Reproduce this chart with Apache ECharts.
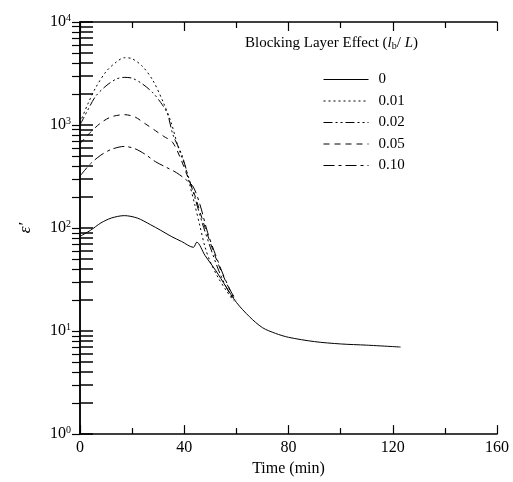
<!DOCTYPE html>
<html>
<head>
<meta charset="utf-8">
<script src="https://cdn.jsdelivr.net/npm/echarts@6/dist/echarts.min.js"></script>
<style>
html,body{margin:0;padding:0;background:#fff;}
#main{width:513px;height:482px;}
</style>
</head>
<body>
<div id="main"></div>
<script>
// blocking layer thickness ratios (lb/L)
var seriesNames = ['0', '0.01', '0.02', '0.05', '0.10'];
// [time (min), epsilon']
var eps0 = [[0,83],[4,95],[8,112],[12,125],[17,132],[22,125],[27,108],[31,95],[35,83],[39,74],[43.5,65],[44.8,73],[48,54],[52,39],[56,27],[60,19],[65,13.8],[70,10.8],[75,9.5],[80,8.7],[90,7.9],[100,7.5],[110,7.3],[123,7.0]];
var eps001 = [[0,1050],[3,1600],[6,2300],[10,3300],[14,4100],[17,4500],[20,4400],[24,3700],[28,2700],[32,1650],[35,1050],[37.6,620],[40.3,400],[42,270],[44,170],[46,105],[48,65],[50,47],[53,33],[56,25],[59,19.5]];
var eps002 = [[0,1000],[3,1400],[6,1900],[10,2400],[14,2800],[17,2900],[20,2850],[24,2500],[28,2050],[31,1650],[33.5,1300],[35.7,800],[39,520],[41.5,320],[44,200],[47,110],[50,65],[53,40],[56,27],[59,20]];
var eps005 = [[0,660],[4,850],[8,1050],[12,1200],[17,1260],[21,1200],[25,1030],[29,880],[32,780],[35.5,680],[38.5,480],[41,330],[44,210],[47,120],[50,72],[53,45],[56,30],[59,21]];
var eps010 = [[0,320],[4,420],[8,510],[12,580],[17,620],[21,590],[25,520],[29,440],[33,390],[37,345],[41,290],[43.5,250],[46,170],[49,90],[52,55],[55,35],[58,24],[60,20]];
var xTicks = [0, 40, 80, 120, 160];
var yDecades = [1, 10, 100, 1000, 10000];

var logTicks = [];
for (var d = 0; d < 4; d++) {
    for (var k = 1; k < 10; k++) {
        logTicks.push(k * Math.pow(10, d));
    }
}
logTicks.push(10000);

var serif = 'Liberation Serif';
var dashes = ['solid', [2, 3], [9, 3, 2, 3, 2, 3], [6, 5], [11, 4, 3, 4]];
var allData = [eps0, eps001, eps002, eps005, eps010];

function yLabel(v) {
    var p = Math.round(Math.log10(v));
    return '{b|10}{s|' + p + '}';
}

var series = [];
for (var i = 0; i < allData.length; i++) {
    series.push({
        name: seriesNames[i],
        type: 'line',
        data: allData[i],
        symbol: 'none',
        smooth: 0.3,
        color: '#000',
        lineStyle: {color: '#000', width: 1, type: dashes[i]}
    });
}

var myChart = echarts.init(document.getElementById('main'));
var option = {
    backgroundColor: '#FFFFFF',
    animation: false,
    grid: {left: 80, right: 16, top: 22, bottom: 42},
    legend: {
        data: seriesNames,
        orient: 'vertical',
        left: 318,
        top: 67,
        itemWidth: 45,
        itemHeight: 10,
        itemGap: 6.5,
        itemStyle: {opacity: 0},
        lineStyle: {width: 1},
        textStyle: {fontFamily: serif, fontSize: 15, color: '#000', lineHeight: 15, padding: [0, 0, 0, 5]}
    },
    graphic: [{
        type: 'text',
        left: 245,
        top: 36,
        style: {
            text: 'Blocking Layer Effect ({i|l}{sub|b}/ {i|L})',
            fontFamily: serif,
            fontSize: 15,
            fill: '#000',
            rich: {
                i: {fontFamily: serif, fontStyle: 'italic', fontSize: 15},
                sub: {fontFamily: serif, fontSize: 10, verticalAlign: 'bottom', padding: [6, 0, 0, 0]}
            }
        }
    }],
    xAxis: [{
        type: 'value',
        min: 0, max: 160, interval: 40,
        name: 'Time (min)',
        nameLocation: 'middle',
        nameGap: 26,
        nameTextStyle: {fontFamily: serif, fontSize: 16, color: '#000'},
        axisLine: {lineStyle: {color: '#000', width: 1.5}},
        axisTick: {inside: true, length: 9, lineStyle: {color: '#000', width: 1.2}},
        minorTick: {show: true, splitNumber: 2, length: 6, lineStyle: {color: '#000', width: 1.2}},
        axisLabel: {fontFamily: serif, fontSize: 16, color: '#000', margin: 6},
        splitLine: {show: false}
    }, {
        type: 'value',
        position: 'top',
        min: 0, max: 160, interval: 40,
        axisLine: {lineStyle: {color: '#000', width: 1.5}},
        axisTick: {inside: true, length: 9, lineStyle: {color: '#000', width: 1.2}},
        minorTick: {show: true, splitNumber: 2, length: 6, lineStyle: {color: '#000', width: 1.2}},
        axisLabel: {show: false},
        splitLine: {show: false}
    }],
    yAxis: [{
        type: 'log',
        logBase: 10,
        min: 1, max: 10000,
        name: 'ε′',
        nameLocation: 'middle',
        nameRotate: 90,
        nameGap: 46,
        nameTextStyle: {fontFamily: serif, fontSize: 17, fontStyle: 'italic', color: '#000'},
        axisLine: {lineStyle: {color: '#000', width: 1.5}},
        axisTick: {inside: true, length: 13, customValues: logTicks, lineStyle: {color: '#000', width: 1.5}},
        axisLabel: {
            customValues: yDecades,
            formatter: yLabel,
            margin: 9,
            rich: {
                b: {fontFamily: serif, fontSize: 16, color: '#000'},
                s: {fontFamily: serif, fontSize: 10, color: '#000', verticalAlign: 'top', padding: [0, 0, 8, 0]}
            }
        },
        splitLine: {show: false}
    }, {
        type: 'log',
        logBase: 10,
        position: 'right',
        min: 1, max: 10000,
        axisLine: {lineStyle: {color: '#000', width: 1.5}},
        axisTick: {inside: true, length: 8, customValues: logTicks, lineStyle: {color: '#000', width: 1.2}},
        axisLabel: {show: false},
        splitLine: {show: false}
    }],
    series: series
};
myChart.setOption(option);
</script>
</body>
</html>
